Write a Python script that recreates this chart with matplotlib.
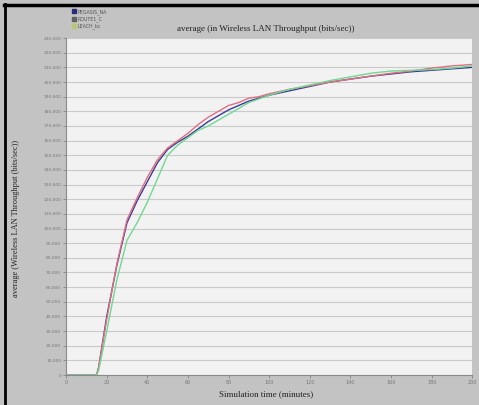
import matplotlib
matplotlib.use("Agg")
import matplotlib.pyplot as plt
from matplotlib.lines import Line2D

# ---- data ----
times = [0, 5, 10, 15, 16, 20, 25, 30, 35, 40, 45, 50, 55, 60, 65, 70, 75, 80, 85, 90,
         95, 100, 110, 120, 130, 140, 150, 160, 170, 180, 190, 200]
series_names = ["PEGASIS_NA", "ROUTE1_C", "LEACH_bc"]
blue_vals = [0, 0, 0, 0, 5000, 40000, 75000, 104000, 119000, 132000, 145000, 154000,
             159000, 163000, 168000, 173000, 177000, 181000, 184000, 187000, 189000,
             191000, 194000, 197000, 200000, 202000, 204000, 205500, 207000, 208000,
             209000, 210000]
red_vals = [0, 0, 0, 0, 5000, 38000, 76000, 106000, 121000, 135000, 147000, 155000,
            160000, 165000, 171000, 176000, 180000, 184000, 186000, 189000, 190000,
            192000, 195000, 197500, 200000, 202000, 204000, 206000, 207500, 209500,
            211000, 212000]
green_vals = [0, 0, 0, 0, 3000, 30000, 65000, 92000, 104000, 118000, 134000, 150000,
              157000, 162000, 167000, 170000, 174000, 178000, 182000, 186000, 188500,
              191000, 195000, 198000, 201000, 203500, 206000, 207500, 208000, 208500,
              209500, 211000]
x_ticks = [0, 20, 40, 60, 80, 100, 120, 140, 160, 180, 200]
y_ticks = list(range(0, 230001, 10000))

line_colors = ["#3a3a9a", "#e07080", "#70d890"]
marker_colors = ["#2a2a7a", "#606060", "#b8c870"]

fig = plt.figure(figsize=(4.79, 4.05), dpi=100, facecolor="#c3c3c3")
ax = fig.add_axes([0.138, 0.074, 0.848, 0.832])
ax.set_facecolor("#f2f2f2")

for vals, c in zip([blue_vals, red_vals, green_vals], line_colors):
    ax.plot(times, vals, color=c, lw=1.0)

ax.set_xlim(0, 200)
ax.set_ylim(0, 230000)
ax.set_xticks(x_ticks)
ax.set_xticklabels([str(t) for t in x_ticks], fontsize=3.5, color="#555555")
ax.set_yticks(y_ticks)
ax.set_yticklabels([f"{v:,}" for v in y_ticks], fontsize=3.2, color="#555555")
ax.tick_params(length=2, width=0.5, colors="#777777", pad=1.5)
ax.yaxis.grid(True, color="#cacaca", lw=0.8)
ax.set_axisbelow(True)
for s in ["top", "right"]:
    ax.spines[s].set_visible(False)
for s in ["left", "bottom"]:
    ax.spines[s].set_color("#8a8a8a")
    ax.spines[s].set_linewidth(0.8)

fig.text(0.555, 0.918, "average (in Wireless LAN Throughput (bits/sec))",
         fontsize=6.5, family="Liberation Serif", color="#222222", ha="center", va="bottom")
fig.text(0.555, 0.018, "Simulation time (minutes)", fontsize=6.5,
         family="Liberation Serif", color="#222222", ha="center", va="bottom")
fig.text(0.033, 0.46, "average (Wireless LAN Throughput (bits/sec))", fontsize=6,
         family="Liberation Serif", color="#222222", rotation=90, ha="center", va="center")

# legend
handles = [Line2D([], [], ls="none", marker="s", markersize=2.8, color=c) for c in marker_colors]
leg = fig.legend(handles, series_names, loc="upper left", bbox_to_anchor=(0.145, 0.985),
                 frameon=False, fontsize=3.4, handlelength=0.6, handletextpad=0.4,
                 labelspacing=0.35, borderpad=0.1)
for t in leg.get_texts():
    t.set_color("#555555")

# frame borders
fig.add_artist(Line2D([0.008, 1.0], [0.988, 0.988], transform=fig.transFigure, color="black", lw=2.5))
fig.add_artist(Line2D([0.010, 0.010], [0.0, 0.99], transform=fig.transFigure, color="black", lw=2.0))

fig.savefig("out.png", dpi=100, facecolor=fig.get_facecolor())
